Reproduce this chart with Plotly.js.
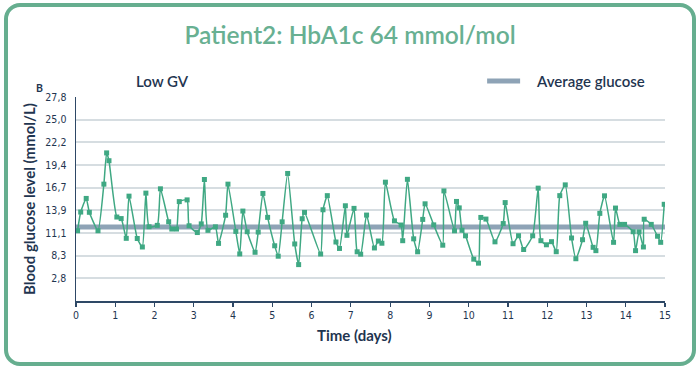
<!DOCTYPE html>
<html>
<head>
<meta charset="utf-8">
<script src="https://cdn.plot.ly/plotly-3.0.1.min.js"></script>
<style>
  html, body { margin: 0; padding: 0; background: #ffffff; }
  #frame { position: absolute; left: 4px; top: 3px; width: 684px; height: 355px;
           border: 4px solid #66ae8f; border-radius: 16px; background: #ffffff; }
  #chart { position: absolute; left: 0; top: 0; width: 700px; height: 370px; }
</style>
</head>
<body>
<div id="frame"></div>
<div id="chart"></div>
<script>
// Time (days)
const days = [0.04,0.12,0.26,0.34,0.56,0.71,0.78,0.84,1.04,1.15,1.28,1.35,1.56,1.69,1.78,1.86,2.07,2.15,2.36,2.44,2.56,2.63,2.83,2.88,3.09,3.19,3.27,3.36,3.55,3.63,3.81,3.87,4.07,4.17,4.25,4.36,4.56,4.64,4.76,4.88,5.06,5.15,5.25,5.39,5.57,5.67,5.76,5.82,6.23,6.29,6.40,6.62,6.71,6.86,6.90,7.08,7.16,7.25,7.40,7.60,7.70,7.79,7.88,8.11,8.28,8.32,8.44,8.60,8.70,8.83,8.89,9.11,9.34,9.37,9.64,9.69,9.76,9.83,9.92,10.13,10.25,10.31,10.44,10.67,10.88,10.93,11.13,11.27,11.40,11.63,11.77,11.84,11.98,12.11,12.23,12.32,12.46,12.62,12.73,12.90,12.98,13.17,13.24,13.34,13.46,13.69,13.74,13.85,13.97,14.19,14.25,14.34,14.45,14.47,14.65,14.81,14.89,14.98];
// Blood glucose (mmol/L)
const glucose = [11.39,13.68,15.35,13.65,11.39,17.10,20.93,19.97,13.07,12.88,10.46,15.63,10.44,9.40,16.00,11.88,12.05,16.53,12.49,11.60,11.60,14.96,15.17,12.00,11.17,12.23,17.67,11.44,11.87,9.84,13.29,17.10,11.31,8.55,13.80,11.27,8.75,11.23,15.96,13.03,9.55,8.27,12.48,18.41,9.77,7.24,12.86,13.64,8.54,13.96,15.69,10.01,9.22,14.45,10.83,14.13,8.81,8.52,13.31,9.28,10.13,9.86,17.34,12.60,12.09,10.17,17.69,10.40,8.81,12.78,14.69,12.11,9.62,16.27,11.38,14.98,14.19,11.45,10.77,7.91,7.42,13.02,12.82,10.03,12.27,14.84,9.80,10.78,9.09,10.77,16.61,10.17,9.67,10.05,8.82,15.69,17.01,10.50,7.96,10.29,12.31,9.36,8.95,13.52,15.67,9.97,14.17,12.17,12.17,11.27,8.95,11.26,9.40,12.80,12.17,10.72,9.97,14.63];
const avgGlucose = 11.84;
const avgSpan = [0, 15];
const yTickVals = [5.56, 8.33, 11.11, 13.89, 16.67, 19.44, 22.22, 25.0, 27.78];
const yTickText = ["2,8", "8,3", "11,1", "13,9", "16,7", "19,4", "22,2", "25,0", "27,8"];
const xTickVals = [0,1,2,3,4,5,6,7,8,9,10,11,12,13,14,15];

const navy = '#1f3550';
const green = '#3fa883';
const avgColor = '#8ea3b6';
const narrow = '"Liberation Sans Narrow", "DejaVu Sans Condensed", "Liberation Sans", sans-serif';
const main = 'Lato, "Open Sans", sans-serif';

const traces = [
  {
    x: avgSpan, y: avgSpan.map(() => avgGlucose),
    mode: 'lines', name: 'Average glucose',
    line: { color: avgColor, width: 5 },
    showlegend: false, hoverinfo: 'skip'
  },
  {
    x: days, y: glucose, mode: 'lines+markers', name: 'Glucose',
    line: { color: green, width: 1.5, shape: 'spline', smoothing: 0.5 },
    marker: { color: green, size: 5, symbol: 'square' },
    showlegend: false
  }
];

const layout = {
  width: 700, height: 370,
  margin: { l: 76, r: 35, t: 97, b: 69 },
  paper_bgcolor: 'rgba(0,0,0,0)',
  plot_bgcolor: 'rgba(0,0,0,0)',
  title: {
    text: 'Patient2: HbA1c 64 mmol/mol',
    font: { family: main, size: 24.5, color: '#68b092', weight: 600 },
    x: 0.5, xanchor: 'center', y: 0.905, yanchor: 'middle'
  },
  xaxis: {
    range: [0, 15], tickvals: xTickVals,
    showgrid: false, zeroline: false,
    showline: true, linecolor: '#2e4866', linewidth: 1.5,
    ticks: 'outside', ticklen: 4, tickcolor: '#2e4866', tickwidth: 1.2,
    tickfont: { family: narrow, size: 10.5, color: navy }
  },
  yaxis: {
    range: [2.78, 27.78], tickvals: yTickVals, ticktext: yTickText,
    showgrid: true, gridcolor: '#d6dde1', gridwidth: 2,
    zeroline: false,
    showline: true, linecolor: '#2e4866', linewidth: 1.5,
    ticks: '', ticklabelstandoff: 6,
    tickfont: { family: narrow, size: 10.5, color: navy },
    title: { text: 'Blood glucose level (mmol/L)', font: { family: main, size: 15, color: navy, weight: 700 }, standoff: 6 }
  },
  shapes: [
    { type: 'line', xref: 'paper', yref: 'paper', x0: 0.698, x1: 0.754, y0: 1.078, y1: 1.078,
      line: { color: avgColor, width: 5 } }
  ],
  annotations: [
    { text: 'Average glucose', xref: 'paper', yref: 'paper', x: 0.777, y: 1.078, xanchor: 'left', yanchor: 'middle',
      showarrow: false, font: { family: main, size: 15, color: navy, weight: 600 } },
    { text: 'Low GV', xref: 'paper', yref: 'paper', x: 0.099, y: 1.08, xanchor: 'left', yanchor: 'middle',
      showarrow: false, font: { family: main, size: 15, color: navy, weight: 600 } },
    { text: 'Time (days)', xref: 'paper', yref: 'paper', x: 0.472, y: -0.167, xanchor: 'center', yanchor: 'middle',
      showarrow: false, font: { family: main, size: 15, color: navy, weight: 700 } },
    { text: 'B', xref: 'paper', yref: 'paper', x: -0.062, y: 1.045, xanchor: 'center', yanchor: 'middle',
      showarrow: false, font: { family: main, size: 10.5, color: navy, weight: 700 } }
  ],
  showlegend: false
};

Plotly.newPlot('chart', traces, layout, { displayModeBar: false, staticPlot: true });
</script>
</body>
</html>
